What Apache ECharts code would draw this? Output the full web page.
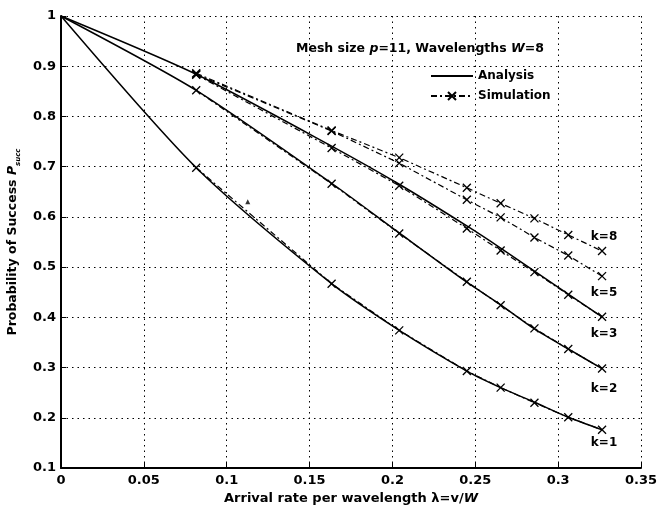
<!DOCTYPE html>
<html>
<head>
<meta charset="utf-8">
<script src="https://cdn.jsdelivr.net/npm/echarts@6/dist/echarts.min.js"></script>
<style>
  html, body { margin: 0; padding: 0; background: #fff; }
  #chart { width: 666px; height: 505px; }
</style>
</head>
<body>
<div id="chart"></div>
<script>
// arrival rate points where simulation was run
const xSim = [0.0816, 0.1633, 0.2041, 0.2449, 0.2653, 0.2857, 0.3061, 0.3265];
const xAna = [0, 0.0816, 0.1633, 0.2041, 0.2449, 0.2653, 0.2857, 0.3061, 0.3265];

// analysis curves (solid)
const anaK1 = [1, 0.698, 0.467, 0.374, 0.293, 0.260, 0.231, 0.201, 0.176];
const anaK2 = [1, 0.852, 0.667, 0.568, 0.470, 0.425, 0.377, 0.337, 0.298];
const anaK3 = [1, 0.884, 0.741, 0.665, 0.582, 0.538, 0.492, 0.446, 0.401];

// simulation curves (dash-dot with x)
const simK1 = [0.698, 0.467, 0.374, 0.293, 0.260, 0.230, 0.201, 0.176];
const simK2 = [0.852, 0.666, 0.567, 0.471, 0.424, 0.378, 0.337, 0.298];
const simK3 = [0.883, 0.737, 0.662, 0.577, 0.533, 0.490, 0.445, 0.401];
const simK5 = [0.884, 0.771, 0.707, 0.634, 0.599, 0.559, 0.523, 0.482];
const simK8 = [0.886, 0.772, 0.718, 0.658, 0.627, 0.597, 0.564, 0.532];

const kNames = ['k=1', 'k=2', 'k=3', 'k=5', 'k=8'];
const simAll = [simK1, simK2, simK3, simK5, simK8];

// stray mark on the scan
const strayX = [0.1127];
const strayY = [0.63];

const font = "'DejaVu Sans', Verdana, sans-serif";
const xMark = 'path://M0,0L10,10M10,0L0,10';

function pairs(xs, ys) {
    return xs.map((x, i) => [x, ys[i]]);
}

const labelOffsets = [13, 20, 17, 17, -14];

let series = [];

[anaK1, anaK2, anaK3].forEach((ys) => {
    series.push({
        name: 'Analysis',
        type: 'line',
        data: pairs(xAna, ys),
        smooth: 0.25,
        showSymbol: false,
        symbol: 'none',
        itemStyle: { color: '#000' },
        lineStyle: { color: '#000', width: 1.5, type: 'solid' },
        z: 3
    });
});

simAll.forEach((ys, i) => {
    let data = pairs(xSim, ys);
    let last = data.length - 1;
    data[last] = {
        value: data[last],
        label: {
            show: true,
            formatter: kNames[i],
            position: 'inside',
            offset: [2, labelOffsets[i]],
            color: '#000',
            fontFamily: font,
            fontWeight: 'bold',
            fontSize: 12
        }
    };
    series.push({
        name: 'Simulation',
        type: 'line',
        data: data,
        symbol: xMark,
        symbolSize: 8,
        showAllSymbol: true,
        itemStyle: { color: 'rgba(0,0,0,0)', borderColor: '#000', borderWidth: 1.3 },
        lineStyle: { color: '#000', width: 1.2, type: [6, 3, 2, 3] },
        z: 4
    });
});

series.push({
    type: 'scatter',
    data: pairs(strayX, strayY),
    symbol: 'triangle',
    symbolSize: 5,
    itemStyle: { color: '#000' },
    silent: true
});

let myChart = echarts.init(document.getElementById('chart'));

var option = {
    animation: false,
    backgroundColor: '#fff',
    textStyle: { fontFamily: font, color: '#000' },
    title: {
        text: 'Mesh size {i|p}=11, Wavelengths {i|W}=8',
        left: 291,
        top: 37,
        textStyle: {
            fontFamily: font,
            fontSize: 12.5,
            fontWeight: 'bold',
            color: '#000',
            rich: {
                i: { fontFamily: font, fontSize: 12.5, fontWeight: 'bold', fontStyle: 'italic', color: '#000' }
            }
        }
    },
    legend: {
        data: [
            { name: 'Analysis', itemStyle: { opacity: 0 } },
            { name: 'Simulation' }
        ],
        orient: 'vertical',
        left: 425,
        top: 65,
        itemWidth: 42,
        itemHeight: 10,
        itemGap: 8,
        textStyle: { fontFamily: font, fontSize: 12, fontWeight: 'bold', color: '#000' }
    },
    grid: {
        left: 61,
        right: 25,
        top: 16,
        bottom: 37,
        outerBoundsMode: 'none'
    },
    xAxis: {
        type: 'value',
        min: 0,
        max: 0.35,
        interval: 0.05,
        name: 'Arrival rate per wavelength λ=v/{i|W}',
        nameLocation: 'middle',
        nameGap: 23,
        nameTextStyle: {
            fontFamily: font,
            fontSize: 13,
            fontWeight: 'bold',
            color: '#000',
            rich: { i: { fontFamily: font, fontSize: 13, fontWeight: 'bold', fontStyle: 'italic', color: '#000' } }
        },
        axisLine: { show: true, onZero: false, lineStyle: { color: '#000', width: 2 } },
        axisTick: { show: true, inside: true, length: 5, lineStyle: { color: '#000' } },
        axisLabel: {
            fontFamily: font, fontSize: 13, fontWeight: 'bold', color: '#000', margin: 6,
            formatter: (v) => String(+v.toFixed(2))
        },
        splitLine: { show: true, lineStyle: { color: '#000', type: [1.5, 4], width: 1 } }
    },
    yAxis: {
        type: 'value',
        min: 0.1,
        max: 1,
        interval: 0.1,
        name: 'Probability of Success {i|P}{sub|succ}',
        nameLocation: 'middle',
        nameGap: 39,
        nameTextStyle: {
            fontFamily: font,
            fontSize: 12.5,
            fontWeight: 'bold',
            color: '#000',
            rich: {
                i: { fontFamily: font, fontSize: 12.5, fontWeight: 'bold', fontStyle: 'italic', color: '#000' },
                sub: { fontFamily: font, fontSize: 7, fontStyle: 'italic', color: '#000', verticalAlign: 'bottom', lineHeight: 19 }
            }
        },
        axisLine: { show: true, onZero: false, lineStyle: { color: '#000', width: 2 } },
        axisTick: { show: true, inside: true, length: 5, lineStyle: { color: '#000' } },
        axisLabel: {
            fontFamily: font, fontSize: 13, fontWeight: 'bold', color: '#000', margin: 5,
            formatter: (v) => String(+v.toFixed(2))
        },
        splitLine: { show: true, lineStyle: { color: '#000', type: [1.5, 4], width: 1 } }
    },
    series: series
};

myChart.setOption(option);

window.addEventListener('resize', () => {
    myChart.resize();
});
</script>
</body>
</html>
